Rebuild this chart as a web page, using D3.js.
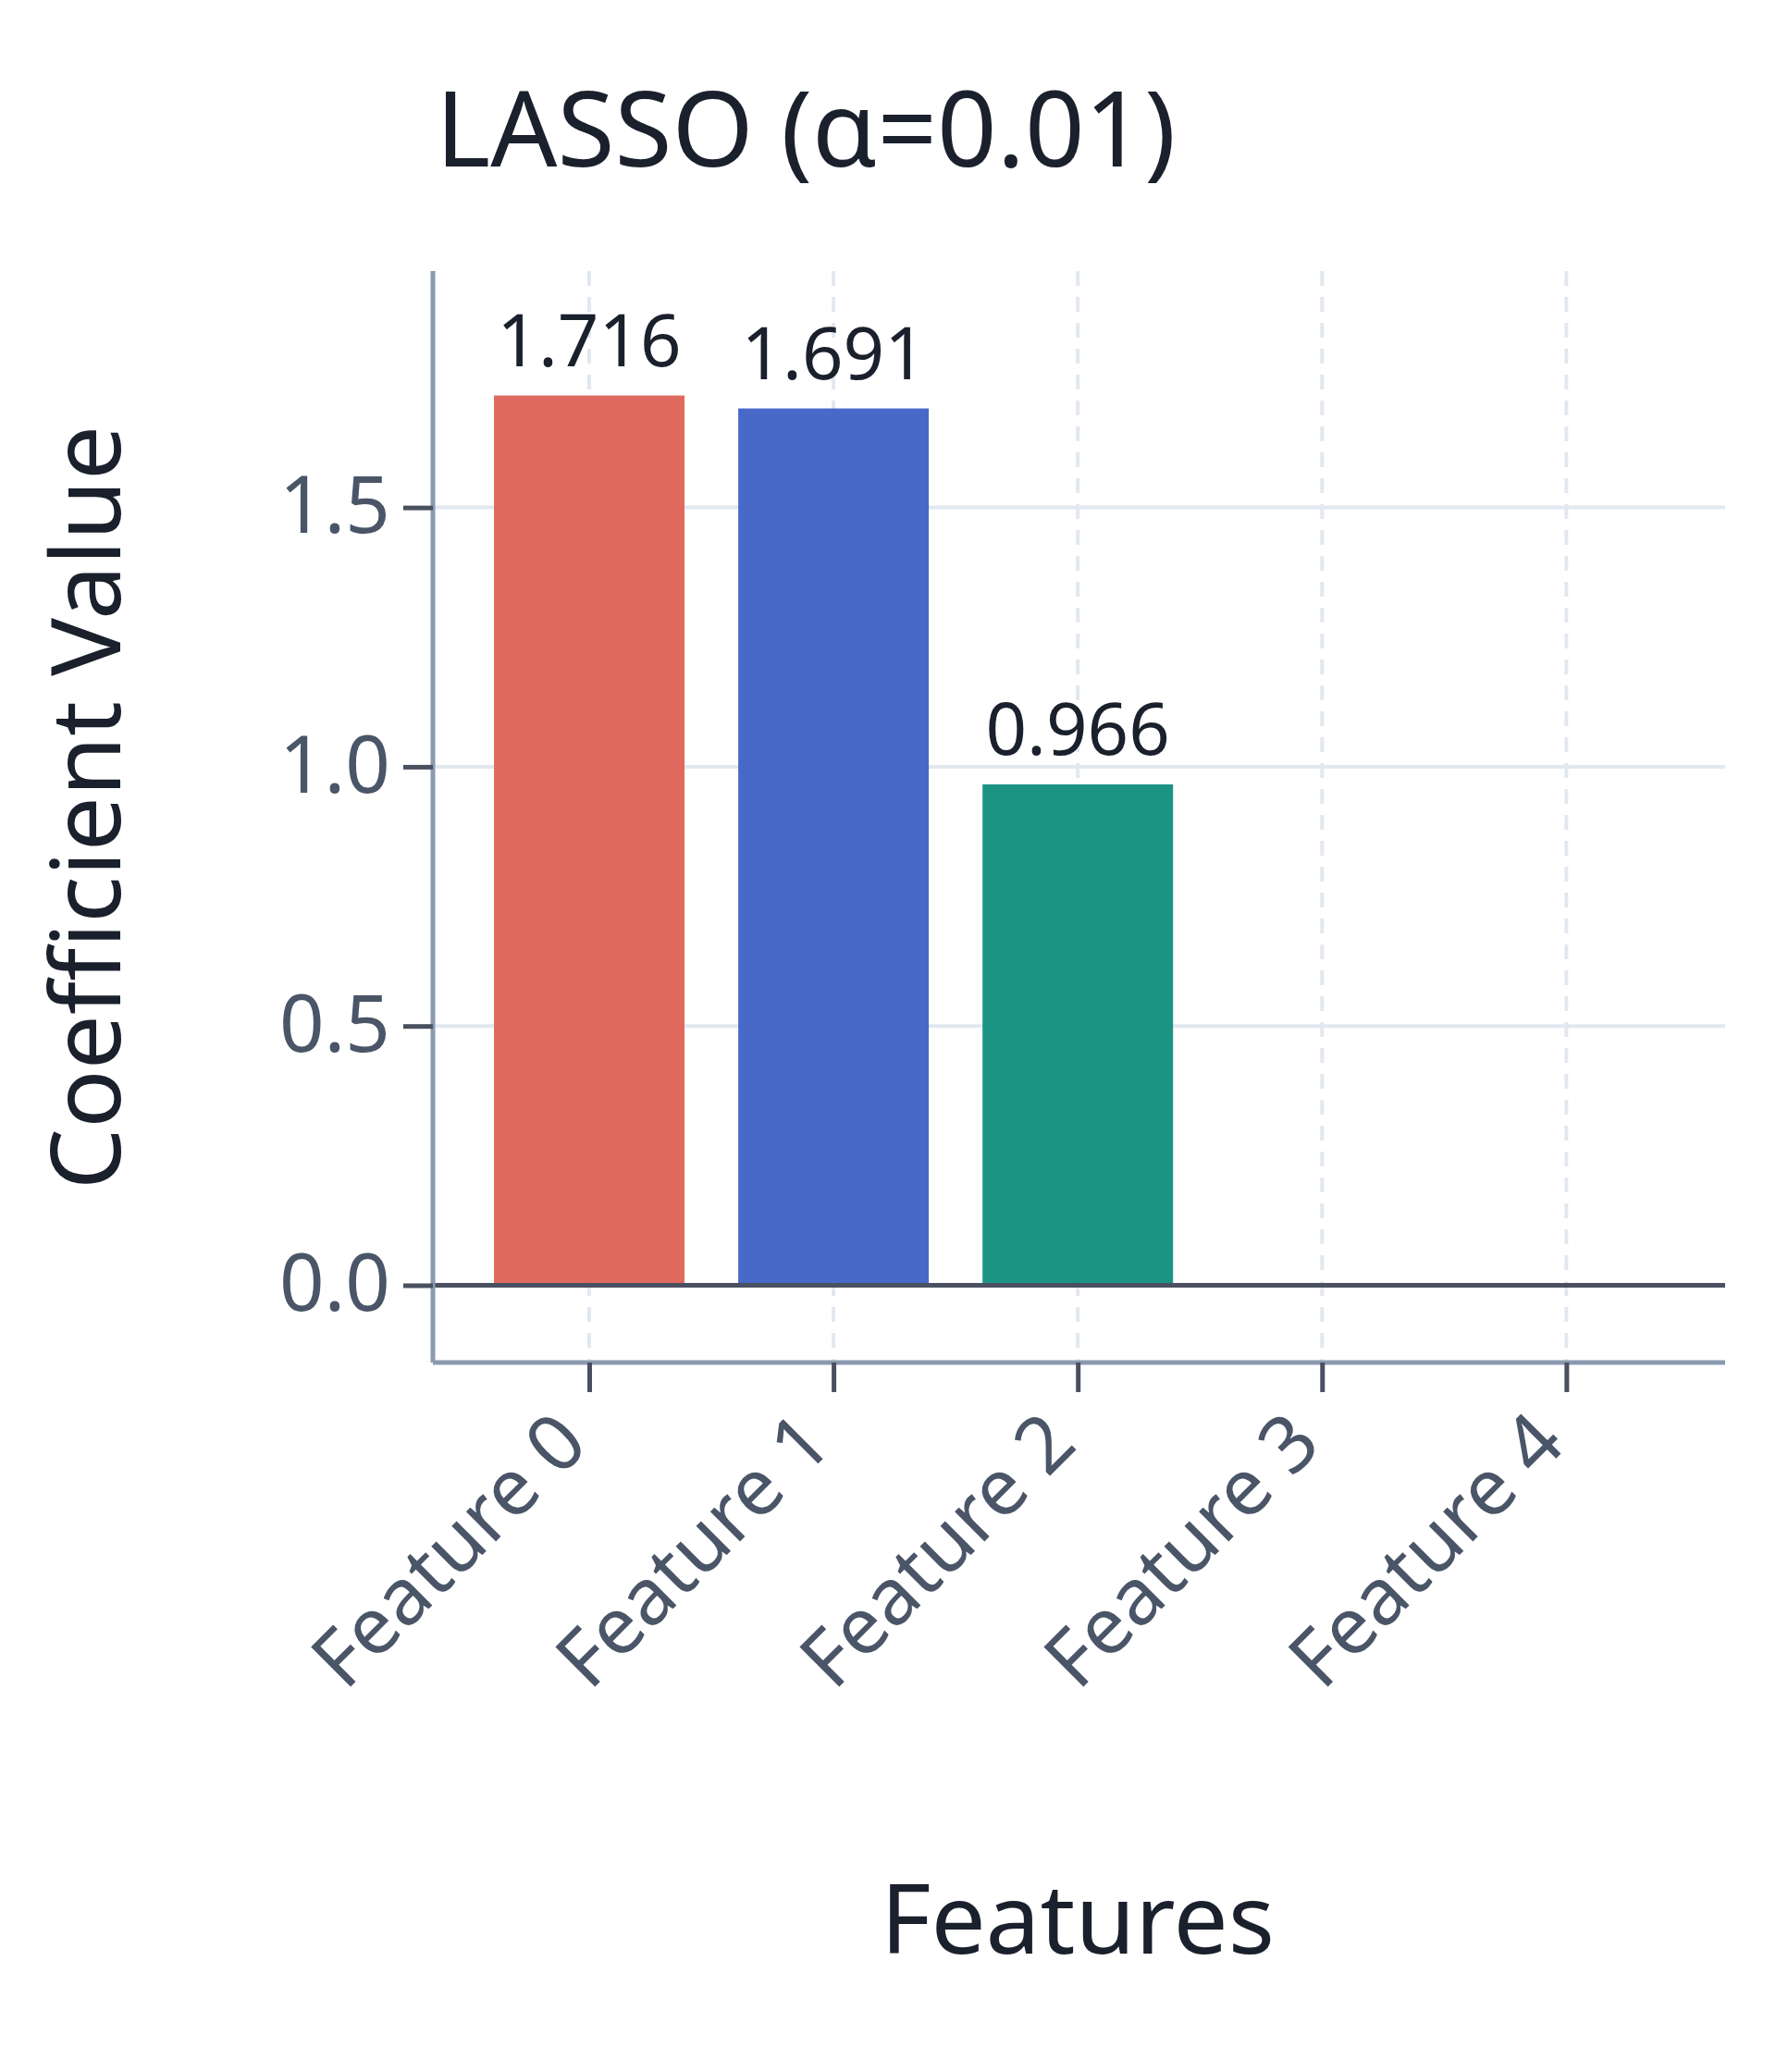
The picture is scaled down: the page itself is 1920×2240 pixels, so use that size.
<!DOCTYPE html>
<html><head><meta charset="utf-8">
<script src="https://cdn.jsdelivr.net/npm/d3@7"></script>
<style>body{margin:0;background:#fff}</style></head>
<body><script>
const categories=["Feature 0","Feature 1","Feature 2","Feature 3","Feature 4"];
const values=[1.716,1.691,0.966,0,0];
const colors=["#e06a5e","#4869c8","#1b9484","#888","#888"];
const yTicks=[0,0.5,1.0,1.5];
const W=1920,H=2240,L=468,R=1865,T=293,B=1473;
const font="'Noto Sans', sans-serif";
const svg=d3.select("body").append("svg").attr("width",W).attr("height",H);
const x=d3.scaleLinear().domain([-0.64,4.65]).range([L,R]);
const y=d3.scaleLinear().domain([-0.149,1.956]).range([B,T]);
const g=svg.append("g");
// grids
g.selectAll(".hg").data(yTicks).enter().append("line").attr("x1",L).attr("x2",R).attr("y1",d=>y(d)).attr("y2",d=>y(d)).attr("stroke","#e2e8f0").attr("stroke-width",4);
g.selectAll(".vg").data(categories).enter().append("line").attr("x1",(d,i)=>x(i)).attr("x2",(d,i)=>x(i)).attr("y1",T).attr("y2",B).attr("stroke","#e2e8f0").attr("stroke-width",4).attr("stroke-dasharray","16,12");
// bars
const bw=0.78;
g.selectAll(".bar").data(values).enter().append("rect")
 .attr("x",(d,i)=>x(i-bw/2)).attr("width",x(bw)-x(0))
 .attr("y",d=>y(Math.max(d,0))).attr("height",d=>Math.abs(y(0)-y(d)))
 .attr("fill",(d,i)=>colors[i]);
// labels
g.selectAll(".vl").data(values).enter().filter(d=>d!==0).append("text")
 .attr("x",(d,i)=>x(i)).attr("y",d=>y(d)-32).attr("text-anchor","middle")
 .attr("font-family",font).attr("font-size",78).attr("fill","#1a202c").text(d=>d.toFixed(3));
// zero line
g.append("line").attr("x1",L).attr("x2",R).attr("y1",y(0)).attr("y2",y(0)).attr("stroke","#4a5060").attr("stroke-width",5);
// axes
const ya=svg.append("g").attr("transform",`translate(${L},0)`).call(d3.axisLeft(y).tickValues(yTicks).tickFormat(d3.format(".1f")).tickSize(32).tickPadding(14).tickSizeOuter(0));
const xa=svg.append("g").attr("transform",`translate(0,${B})`).call(d3.axisBottom(x).tickValues(d3.range(5)).tickFormat(i=>categories[i]).tickSize(32).tickSizeOuter(0));
[ya,xa].forEach(a=>{a.select(".domain").attr("stroke","#8a9ab0").attr("stroke-width",5);
 a.selectAll(".tick line").attr("stroke","#4a5060").attr("stroke-width",5);
 a.selectAll("text").attr("font-family",font).attr("font-size",85).attr("fill","#4a5568");});
ya.select(".domain").attr("d",`M0,${T}V${B}`);
xa.select(".domain").attr("d",`M${L},0H${R}`);
xa.selectAll(".tick text").attr("text-anchor","end").attr("dy","0.35em").attr("transform","translate(-20,70) rotate(-45)").attr("y",0).attr("x",0);
// titles
svg.append("text").attr("x",471).attr("y",180).attr("font-family",font).attr("font-size",113).attr("fill","#1a202c").text("LASSO (α=0.01)");
svg.append("text").attr("transform",`translate(130,${(T+B)/2-10}) rotate(-90)`).attr("text-anchor","middle").attr("font-family",font).attr("font-size",105).attr("fill","#1a202c").text("Coefficient Value");
svg.append("text").attr("x",1165).attr("y",2112).attr("text-anchor","middle").attr("font-family",font).attr("font-size",105).attr("fill","#1a202c").text("Features");
</script></body></html>
